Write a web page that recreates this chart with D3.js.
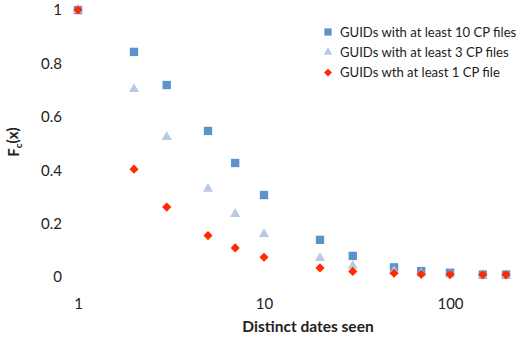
<!DOCTYPE html>
<html>
<head>
<meta charset="utf-8">
<script src="https://cdn.jsdelivr.net/npm/d3@7"></script>
<style>
  body { margin: 0; background: #fff; }
  text { font-family: Lato, "Open Sans", sans-serif; }
</style>
</head>
<body>
<svg width="521" height="337"></svg>
<script>
// distinct dates seen (x) and Fc(x) for each group
const dates = [1, 2, 3, 5, 7, 10, 20, 30, 50, 70, 100, 150, 200];
const atLeast10 = [1.0, 0.843, 0.719, 0.547, 0.427, 0.307, 0.139, 0.079, 0.036, 0.022, 0.016, 0.009, 0.009];
const atLeast3  = [1.0, 0.704, 0.524, 0.330, 0.236, 0.161, 0.071, 0.042, 0.022, 0.013, 0.009, 0.006, 0.006];
const atLeast1  = [1.0, 0.404, 0.262, 0.155, 0.109, 0.074, 0.034, 0.021, 0.014, 0.010, 0.009, 0.008, 0.008];
const seriesNames = ["GUIDs with at least 10 CP files", "GUIDs with at least 3 CP files", "GUIDs wth at least 1 CP file"];
const xTicks = [1, 10, 100];
const yTicks = [0, 0.2, 0.4, 0.6, 0.8, 1];

var svg = d3.select("svg");

var x = d3.scaleLog().domain([1, 100]).range([78, 450]);
var y = d3.scaleLinear().domain([0, 1]).range([277, 10]);

var series = [
  { name: seriesNames[0], values: atLeast10, shape: d3.symbolSquare, size: 70, rot: 0, color: "#5b93cb" },
  { name: seriesNames[1], values: atLeast3, shape: d3.symbolTriangle, size: 45, rot: 0, color: "#b8c9e3" },
  { name: seriesNames[2], values: atLeast1, shape: d3.symbolSquare, size: 42, rot: 45, color: "#ff2a00" }
];

// axes without lines
var xAxis = svg.append("g")
    .attr("transform", "translate(0,304)")
    .call(d3.axisBottom(x).tickValues(xTicks).tickFormat(d3.format("d")).tickSize(0).tickPadding(0));
xAxis.select(".domain").remove();
xAxis.selectAll("text").attr("font-size", 15).attr("fill", "#222").attr("dy", "0.32em")
    .style("font-family", "Lato, sans-serif");

var yAxis = svg.append("g")
    .attr("transform", "translate(62,0)")
    .call(d3.axisLeft(y).tickValues(yTicks).tickFormat(d => d3.format("")(d)).tickSize(0).tickPadding(0));
yAxis.select(".domain").remove();
yAxis.selectAll("text").attr("font-size", 15).attr("fill", "#222")
    .style("font-family", "Lato, sans-serif");

// markers
series.forEach(function(s) {
  svg.append("g").selectAll("path")
    .data(dates.map((d, i) => ({ x: d, v: s.values[i] })))
    .enter().append("path")
    .attr("transform", d => "translate(" + x(d.x) + "," + y(d.v) + ") rotate(" + s.rot + ")")
    .attr("d", d3.symbol().type(s.shape).size(s.size))
    .attr("fill", s.color);
});

// legend
var legend = svg.append("g").attr("transform", "translate(328,32)");
series.forEach(function(s, i) {
  var row = legend.append("g").attr("transform", "translate(0," + (i * 20.3) + ")");
  row.append("path")
    .attr("transform", "rotate(" + s.rot + ")")
    .attr("d", d3.symbol().type(s.shape).size(s.size * 0.75))
    .attr("fill", s.color);
  row.append("text")
    .attr("x", 12)
    .attr("dy", "0.35em")
    .attr("font-size", 13.1)
    .attr("fill", "#222")
    .text(s.name);
});

// axis titles
svg.append("text")
  .attr("x", 308)
  .attr("y", 332)
  .attr("text-anchor", "middle")
  .attr("font-size", 15.5)
  .attr("font-weight", "bold")
  .attr("fill", "#222")
  .text("Distinct dates seen");

var yl = svg.append("text")
  .attr("transform", "translate(19,142) rotate(-90)")
  .attr("text-anchor", "middle")
  .attr("font-size", 15)
  .attr("font-weight", "bold")
  .attr("fill", "#222");
yl.append("tspan").text("F");
yl.append("tspan").attr("font-size", 10).attr("dy", "0.3em").text("c");
yl.append("tspan").attr("dy", "-0.3em").text("(x)");
</script>
</body>
</html>
